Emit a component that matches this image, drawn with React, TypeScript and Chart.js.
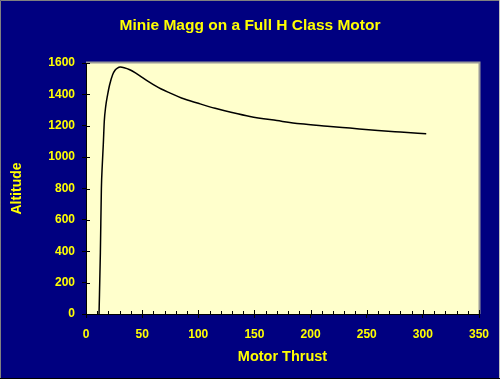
import React, { useEffect, useRef } from "react";
import { Chart, registerables } from "chart.js";

Chart.register(...registerables);

const chartTitle = "Minie Magg on a Full H Class Motor";
const xAxisTitle = "Motor Thrust";
const yAxisTitle = "Altitude";

const thrust = [11.6, 12.8, 13.7, 14.5, 15.4, 16.3, 17.5, 19.3, 21, 23.7, 26, 28, 30.5, 34, 39, 45, 50, 55, 60, 67, 75, 85, 100, 115, 130, 146, 170, 191, 215, 235, 260, 280, 303];
const altitude = [0, 390, 800, 950, 1080, 1230, 1320, 1400, 1460, 1525, 1555, 1568, 1574, 1570, 1557, 1532, 1508, 1484, 1462, 1434, 1408, 1377, 1343, 1311, 1284, 1259, 1233, 1212, 1197, 1185, 1170, 1160, 1149];

const xMin = 0, xMax = 350, xStep = 10, xLabelStep = 50;
const yMin = 0, yMax = 1600, yStep = 200;

const NAVY = "#000080";
const YELLOW = "#FFFF00";
const PLOT_BG = "#FFFFCC";
const FONT = "'Liberation Sans', Arial, sans-serif";

const framePlugin = {
  id: "frame",
  beforeDraw(chart: any) {
    const { ctx, width, height, chartArea } = chart;
    ctx.save();
    ctx.fillStyle = NAVY;
    ctx.fillRect(0, 0, width, height);
    ctx.fillStyle = PLOT_BG;
    ctx.fillRect(chartArea.left, chartArea.top, chartArea.right - chartArea.left, chartArea.bottom - chartArea.top);
    ctx.lineWidth = 1;
    ctx.strokeStyle = "#808080";
    ctx.beginPath();
    ctx.moveTo(0.5, height);
    ctx.lineTo(0.5, 0.5);
    ctx.lineTo(width, 0.5);
    ctx.stroke();
    ctx.strokeStyle = "#C0C0C0";
    ctx.beginPath();
    ctx.moveTo(width - 0.5, 0);
    ctx.lineTo(width - 0.5, height);
    ctx.stroke();
    ctx.strokeStyle = "#000000";
    ctx.beginPath();
    ctx.moveTo(0, height - 0.5);
    ctx.lineTo(width, height - 0.5);
    ctx.stroke();
    ctx.strokeStyle = "#999999";
    ctx.lineWidth = 2;
    ctx.beginPath();
    ctx.moveTo(chartArea.left, chartArea.top - 0.5);
    ctx.lineTo(chartArea.right + 0.5, chartArea.top - 0.5);
    ctx.lineTo(chartArea.right + 0.5, chartArea.bottom);
    ctx.stroke();
    ctx.restore();
  },
  afterDraw(chart: any) {
    const { ctx, chartArea, scales } = chart;
    ctx.save();
    ctx.strokeStyle = "#000000";
    ctx.lineWidth = 1;
    ctx.beginPath();
    for (const t of scales.y.ticks) {
      const py = Math.round(scales.y.getPixelForValue(t.value)) + 0.5;
      ctx.moveTo(chartArea.left, py);
      ctx.lineTo(chartArea.left + 4, py);
    }
    for (const t of scales.x.ticks) {
      const px = Math.round(scales.x.getPixelForValue(t.value)) + 0.5;
      const len = t.value % xLabelStep === 0 ? 4 : 3;
      ctx.moveTo(px, chartArea.bottom);
      ctx.lineTo(px, chartArea.bottom - len);
    }
    ctx.stroke();
    ctx.restore();
  },
};

export default function App() {
  const canvasRef = useRef<HTMLCanvasElement | null>(null);

  useEffect(() => {
    if (!canvasRef.current) return;
    const points = thrust.map((x, i) => ({ x, y: altitude[i] }));
    const chart = new Chart(canvasRef.current, {
      type: "line",
      data: {
        datasets: [
          {
            data: points,
            borderColor: "#000000",
            borderWidth: 1.5,
            pointRadius: 0,
            fill: false,
            cubicInterpolationMode: "monotone",
          },
        ],
      },
      options: {
        responsive: false,
        animation: false,
        devicePixelRatio: 1,
        layout: { padding: 0 },
        plugins: {
          legend: { display: false },
          tooltip: { enabled: false },
          title: {
            display: true,
            text: chartTitle,
            color: YELLOW,
            font: { family: FONT, size: 15.5, weight: "bold", lineHeight: 1.2 },
            padding: { top: 16, bottom: 28.4 },
          },
        },
        scales: {
          x: {
            type: "linear",
            min: xMin,
            max: xMax,
            afterFit(scale: any) {
              scale.height = 65;
              scale.paddingRight = 21;
            },
            ticks: {
              stepSize: xStep,
              autoSkip: false,
              maxRotation: 0,
              color: YELLOW,
              padding: 9,
              font: { family: FONT, size: 12, weight: "bold" },
              callback: (v: any) => (Number(v) % xLabelStep === 0 ? String(v) : ""),
            },
            grid: {
              drawOnChartArea: false,
              tickLength: 4,
              tickColor: (c: any) => (c.tick && c.tick.value % xLabelStep === 0 ? "#000000" : "rgba(0,0,0,0)"),
            },
            border: { display: true, color: "#000000", width: 1 },
            title: {
              display: true,
              text: xAxisTitle,
              color: YELLOW,
              font: { family: FONT, size: 14.5, weight: "bold", lineHeight: 1.2 },
              padding: { top: 0, bottom: 13.3 },
            },
          },
          y: {
            min: yMin,
            max: yMax,
            afterFit(scale: any) {
              scale.width = 86;
            },
            ticks: {
              stepSize: yStep,
              color: YELLOW,
              padding: 7,
              font: { family: FONT, size: 12, weight: "bold" },
              callback: (v: any) => String(v),
            },
            grid: { drawOnChartArea: false, tickLength: 4, tickColor: "#000000" },
            border: { display: true, color: "#000000", width: 1 },
            title: {
              display: true,
              text: yAxisTitle,
              color: YELLOW,
              font: { family: FONT, size: 14, weight: "bold", lineHeight: 1.2 },
              padding: 8.6,
            },
          },
        },
      },
      plugins: [framePlugin],
    });
    return () => chart.destroy();
  }, []);

  return (
    <div style={{ position: "absolute", left: 0, top: 0, width: 500, height: 379 }}>
      <canvas ref={canvasRef} width={500} height={379} style={{ display: "block" }} />
    </div>
  );
}
